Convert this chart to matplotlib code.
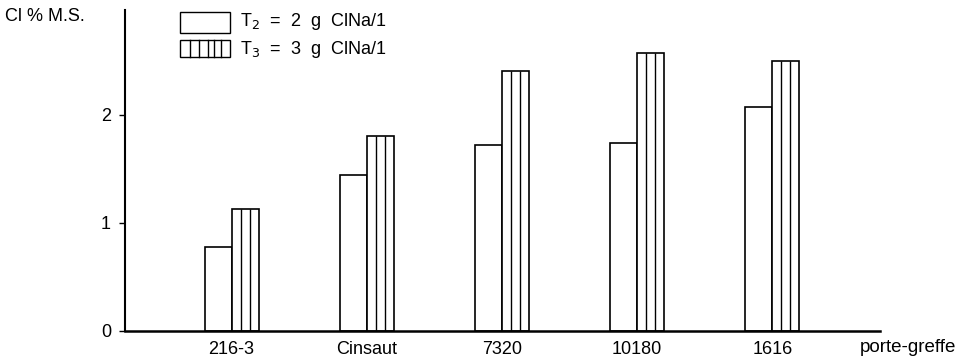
import numpy as np
import matplotlib.pyplot as plt
from matplotlib.patches import Rectangle

plt.rcParams['font.family'] = ['Liberation Sans', 'DejaVu Sans']

# données
rootstocks = ["216-3", "Cinsaut", "7320", "10180", "1616"]
t2_values = [0.78, 1.44, 1.72, 1.74, 2.07]
t3_values = [1.13, 1.80, 2.40, 2.57, 2.50]
y_ticks = [0, 1, 2]

fig = plt.figure(figsize=(9.75, 3.64), dpi=100)
ax = fig.add_axes([0.128, 0.091, 0.775, 0.882])

x = np.arange(1, len(rootstocks) + 1)
w = 0.2

ax.bar(x - w / 2, t2_values, width=w, color="white", edgecolor="black", linewidth=1.2)
ax.bar(x + w / 2, t3_values, width=w, color="white", edgecolor="black", linewidth=1.2)
# rayures verticales dans les barres T3
for xi, v in zip(x, t3_values):
    ax.vlines([xi + w / 3, xi + 2 * w / 3], 0, v, color="black", linewidth=1.0)

ax.set_xlim(0.21, 5.8)
ax.set_ylim(0, 2.97)
ax.set_yticks(y_ticks)
ax.set_yticklabels([str(t) for t in y_ticks], fontsize=13)
ax.tick_params(axis="y", direction="out", length=4, width=1, pad=6)
ax.set_xticks(x)
ax.set_xticklabels(rootstocks, fontsize=13)
ax.tick_params(axis="x", length=0, pad=7)
for s in ["top", "right"]:
    ax.spines[s].set_visible(False)
ax.spines["left"].set_linewidth(1.5)
ax.spines["bottom"].set_linewidth(1.8)

fig.text(0.005, 0.955, "Cl % M.S.", fontsize=13, va="center")
fig.text(0.882, 0.045, "porte-greffe", fontsize=13.5, va="center")

# légende
W, H = 975, 364
def box(x0, y0, x1, y1):
    fig.patches.append(Rectangle((x0 / W, 1 - y1 / H), (x1 - x0) / W, (y1 - y0) / H,
                                 transform=fig.transFigure, fill=False, edgecolor="black",
                                 linewidth=1.0))

box(180, 12, 230, 33)
box(180, 40, 230, 57)
for xs in [190, 199, 208, 214, 221]:
    fig.add_artist(plt.Line2D([xs / W, xs / W], [1 - 57 / H, 1 - 40 / H],
                              transform=fig.transFigure, color="black", linewidth=1.0))
fig.text(240 / W, 1 - 22 / H, "T$_2$  =  2  g  ClNa/1", fontsize=13, va="center")
fig.text(240 / W, 1 - 49 / H, "T$_3$  =  3  g  ClNa/1", fontsize=13, va="center")

fig.savefig("out.png", dpi=100)
